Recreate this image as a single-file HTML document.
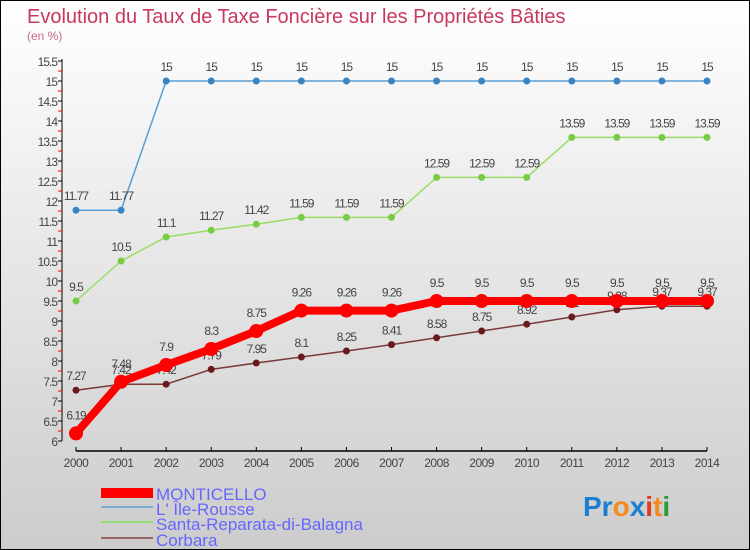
<!DOCTYPE html>
<html><head><meta charset="utf-8"><style>
body{margin:0}
#wrap{position:relative;width:748px;height:548px;border:1px solid #000;background:linear-gradient(#fff,#ccc);font-family:"Liberation Sans",sans-serif;overflow:hidden}
svg text{font-family:"Liberation Sans",sans-serif}
</style></head><body>
<div id="wrap">
<svg id="c" width="748" height="548">
<text x="26" y="22" font-size="20" fill="#c8385e">Evolution du Taux de Taxe Foncière sur les Propriétés Bâties</text>
<text x="26" y="39" font-size="12" fill="#c8688e">(en %)</text>
<g id="axes"></g><g id="series"></g>
<g>
<rect x="100" y="487" width="52" height="10" fill="#f00"/>
<text x="155" y="499" font-size="17" fill="#66f">MONTICELLO</text>
<line x1="100" y1="506" x2="152" y2="506" stroke="#7aaccc" stroke-width="2"/>
<text x="155" y="514" font-size="17" fill="#66f">L' Île-Rousse</text>
<line x1="100" y1="521" x2="152" y2="521" stroke="#99dd77" stroke-width="2"/>
<text x="155" y="529" font-size="17" fill="#66f">Santa-Reparata-di-Balagna</text>
<line x1="100" y1="537" x2="152" y2="537" stroke="#996666" stroke-width="2"/>
<text x="155" y="545" font-size="17" fill="#66f">Corbara</text>
</g>
<text x="582" y="515" font-size="28" font-weight="bold"><tspan fill="#1a7fd0">Pr</tspan><tspan fill="#f58a1f">o</tspan><tspan fill="#1a7fd0">x</tspan><tspan fill="#e03a1e">i</tspan><tspan fill="#f58a1f">t</tspan><tspan fill="#2a9a3a">i</tspan></text>
</svg></div>
<script>
const years=[2000,2001,2002,2003,2004,2005,2006,2007,2008,2009,2010,2011,2012,2013,2014];
const yTicks=[6,6.5,7,7.5,8,8.5,9,9.5,10,10.5,11,11.5,12,12.5,13,13.5,14,14.5,15,15.5];
const ileRousse=[11.77,11.77,15,15,15,15,15,15,15,15,15,15,15,15,15];
const santaReparata=[9.5,10.5,11.1,11.27,11.42,11.59,11.59,11.59,12.59,12.59,12.59,13.59,13.59,13.59,13.59];
const corbara=[7.27,7.42,7.42,7.79,7.95,8.1,8.25,8.41,8.58,8.75,8.92,9.1,9.28,9.37,9.37];
const monticello=[6.19,7.48,7.9,8.3,8.75,9.26,9.26,9.26,9.5,9.5,9.5,9.5,9.5,9.5,9.5];
const fmt=v=>String(v);
const xS=i=>75+i*(706-75)/(years.length-1);
const yS=v=>440-(v-6)*40;
const NS="http://www.w3.org/2000/svg";
function mk(p,t,a){const e=document.createElementNS(NS,t);for(const k in a)e.setAttribute(k,a[k]);p.appendChild(e);return e;}
const ax=document.getElementById('axes');
let l=mk(ax,'line',{x1:61,y1:58,x2:61,y2:440,stroke:'#000'});


yTicks.forEach(v=>{
  const y=yS(v);
  mk(ax,'line',{x1:57,y1:y,x2:61,y2:y,stroke:'#000'});
  if(v<15.5) mk(ax,'line',{x1:57,y1:y-10,x2:61,y2:y-10,stroke:'#f00'});
  const t=mk(ax,'text',{x:56,y:y+5,'font-size':12,fill:'#444','text-anchor':'end','letter-spacing':'-1'});
  t.textContent=fmt(v);
  
  
});
l=mk(ax,'line',{x1:75,y1:450,x2:706,y2:450,stroke:'#000','stroke-width':1.5});


years.forEach((yr,i)=>{
  const x=xS(i);
  mk(ax,'line',{x1:x,y1:446,x2:x,y2:450,stroke:'#000'});
  const t=mk(ax,'text',{x:x,y:466,'font-size':12,fill:'#444','text-anchor':'middle','letter-spacing':'-0.5'});
  t.textContent=yr;
  
  
});
const sg=document.getElementById('series');
function series(name,data,color,w,r,dot,lblOff){
  const g=mk(sg,'g',{});
  
  
  const p=mk(g,'polyline',{points:data.map((v,i)=>xS(i)+','+yS(v)).join(' '),fill:'none',stroke:color,'stroke-width':w,'stroke-linejoin':'round'});
  
  
  data.forEach((v,i)=>{
    const c=mk(g,'circle',{cx:xS(i),cy:yS(v),r:r,fill:dot});
    
    
    const t=mk(g,'text',{x:xS(i),y:yS(v)-lblOff,'font-size':12,fill:'#444','text-anchor':'middle','letter-spacing':'-1'});
    t.textContent=fmt(v);
    
    
  });
}
series('ile-rousse',ileRousse,'#5a9fd4',1.5,3.5,'#3a84c4',10);
series('santa-reparata',santaReparata,'#99dd66',1.5,3.5,'#77cc44',10);
series('corbara',corbara,'#7a3a3a',1.5,3.5,'#6a1a1a',10);
series('monticello',monticello,'#f00',8,7,'#f00',14);
</script>
</body></html>
